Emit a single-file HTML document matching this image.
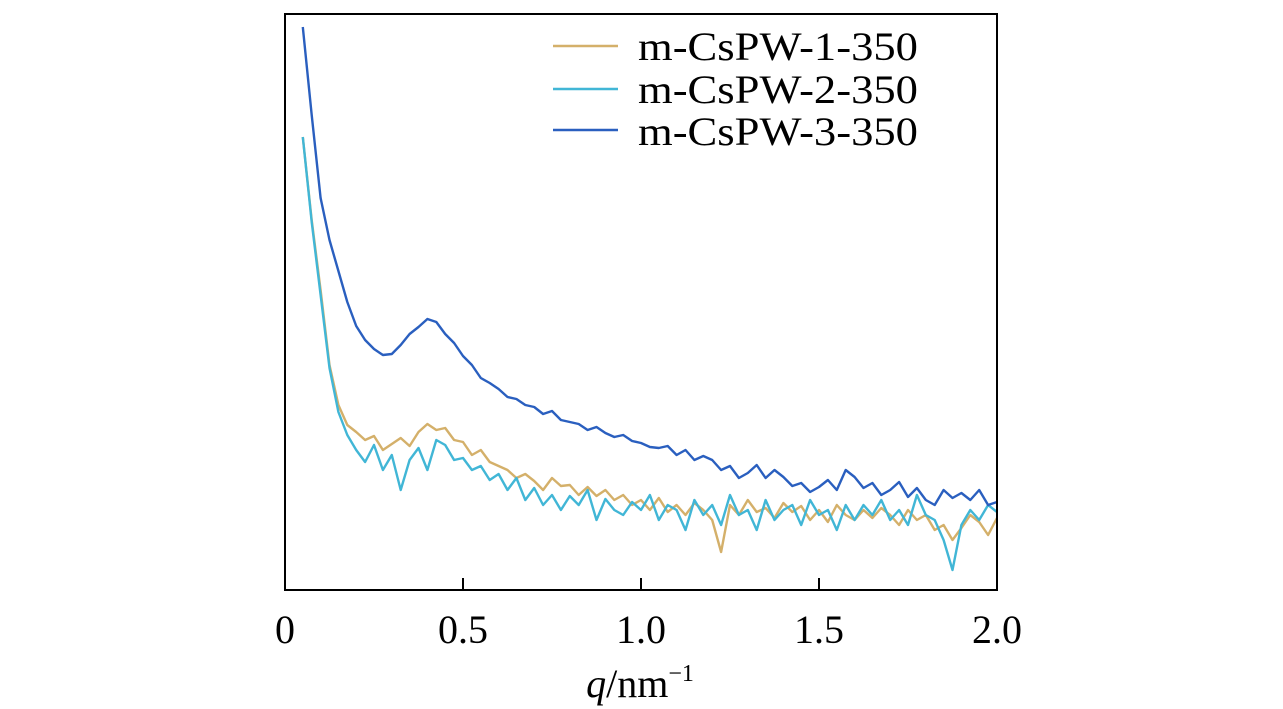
<!DOCTYPE html>
<html><head><meta charset="utf-8"><style>
html,body{margin:0;padding:0;background:#fff;}
svg{display:block;font-family:"Liberation Serif",serif;}
</style></head><body>
<svg width="1283" height="709" viewBox="0 0 1283 709">
<g id="plot"></g>
<rect x="285" y="14" width="712" height="576" fill="none" stroke="#000" stroke-width="2"/>
<g id="xticks"></g>
<text x="640" y="697" font-size="40" text-anchor="middle"><tspan font-style="italic">q</tspan>/nm<tspan font-size="24" dy="-16">−1</tspan></text>
<g>
<g><line x1="553" y1="46" x2="618" y2="46" stroke="#d4b06a" stroke-width="2.5"/><text x="638" y="60" font-size="40" textLength="280" lengthAdjust="spacingAndGlyphs">m-CsPW-1-350</text></g>
<g><line x1="553" y1="89" x2="618" y2="89" stroke="#41b6d6" stroke-width="2.5"/><text x="638" y="103" font-size="40" textLength="280" lengthAdjust="spacingAndGlyphs">m-CsPW-2-350</text></g>
<g><line x1="553" y1="130" x2="618" y2="130" stroke="#2a5fbf" stroke-width="2.5"/><text x="638" y="145" font-size="40" textLength="280" lengthAdjust="spacingAndGlyphs">m-CsPW-3-350</text></g>
</g>
</svg>
<script>
const qStart = 0.05, qStep = 0.025;
const series1 = [453,370,300,225,185,165,158,150,154,140,146,152,144,158,166,160,162,150,148,135,140,128,124,120,112,116,109,100,112,104,105,95,103,94,100,90,95,85,90,80,92,78,85,75,87,80,70,38,85,75,90,78,82,72,87,78,84,70,80,68,85,75,70,80,72,82,75,65,80,70,75,60,65,50,62,75,68,55,72];
const series2 = [453,368,295,222,178,155,140,128,145,120,135,100,130,142,120,150,145,130,132,120,124,110,116,100,112,90,102,85,95,80,94,85,100,70,91,80,75,88,80,95,70,85,80,60,90,75,85,65,95,75,80,60,90,70,80,85,65,90,75,80,60,85,70,85,75,90,70,80,65,95,75,70,50,20,65,80,70,85,78];
const series3 = [563,475,392,350,319,288,264,250,241,235,236,245,256,263,271,268,256,247,234,225,212,207,201,193,191,185,183,176,179,170,168,166,160,163,157,153,155,149,147,143,142,144,135,140,130,134,130,120,124,112,117,125,112,120,113,104,107,98,103,110,100,120,113,102,107,95,100,108,93,102,90,85,100,92,97,90,100,85,88];
const xTicks = [0,0.5,1.0,1.5,2.0];
const xTickLabels = ["0","0.5","1.0","1.5","2.0"];
const NS="http://www.w3.org/2000/svg";
const X = q => 285 + q/2.0*712;
const Y = v => 590 - v/576*576;
const plot=document.getElementById('plot');
const cols=["#d4b06a","#41b6d6","#2a5fbf"];
const names=["series-m-cspw-1-350","series-m-cspw-2-350","series-m-cspw-3-350"];
[series1,series2,series3].forEach((s,i)=>{
  const p=document.createElementNS(NS,'polyline');
  p.setAttribute('points',s.map((v,j)=>X(qStart+j*qStep).toFixed(1)+','+Y(v).toFixed(1)).join(' '));
  p.setAttribute('fill','none');p.setAttribute('stroke',cols[i]);p.setAttribute('stroke-width','2.4');
  p.setAttribute('stroke-linejoin','round');
  
  
  plot.appendChild(p);
});
const xt=document.getElementById('xticks');
xTicks.forEach((t,i)=>{
  const l=document.createElementNS(NS,'line');
  l.setAttribute('x1',X(t));l.setAttribute('x2',X(t));l.setAttribute('y1',590);l.setAttribute('y2',578);
  l.setAttribute('stroke','#000');l.setAttribute('stroke-width','2');
  
  
  xt.appendChild(l);
  const tx=document.createElementNS(NS,'text');
  tx.setAttribute('x',X(t));tx.setAttribute('y',643);tx.setAttribute('font-size','40');tx.setAttribute('text-anchor','middle');
  tx.textContent=xTickLabels[i];
  
  
  xt.appendChild(tx);
});
</script>
</body></html>
